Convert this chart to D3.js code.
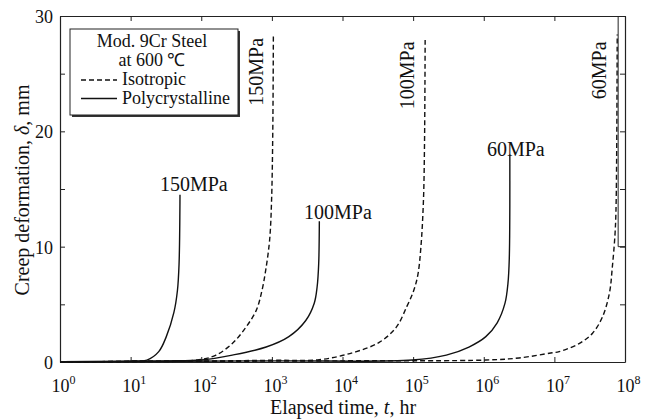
<!DOCTYPE html>
<html>
<head>
<meta charset="utf-8">
<script src="https://cdn.jsdelivr.net/npm/d3@7"></script>
<style>
  body { margin: 0; background: #fff; }
  svg text { font-family: "Liberation Serif", "Times New Roman", serif; fill: #111; }
</style>
</head>
<body>
<div id="chart"></div>
<script>
// elapsed time (hr) / creep deformation (mm)
var iso150 = [[1, 0.02], [10, 0.06], [93, 0.2], [162, 0.6], [275, 1.6], [427, 3.0], [603, 4.5], [724, 6.2], [820, 8.0], [930, 10.6], [990, 14], [1030, 20], [1050, 28.4]];
var poly150 = [[1, 0.02], [10, 0.08], [17, 0.17], [25, 0.9], [32, 2.2], [41, 4.3], [46, 6.2], [48.5, 8.5], [50, 14.5]];
var iso100 = [[1, 0.02], [100, 0.08], [1000, 0.15], [4680, 0.2], [13800, 0.8], [33100, 1.7], [57500, 3.0], [81300, 4.8], [102000, 6.2], [117000, 7.6], [129000, 10.0], [140000, 14], [145000, 19], [148000, 28.0]];
var poly100 = [[1, 0.02], [30, 0.1], [100, 0.17], [275, 0.6], [830, 1.3], [1740, 2.2], [3020, 3.6], [3980, 5.1], [4370, 6.5], [4600, 8.5], [4700, 12.2]];
var iso60 = [[1, 0.02], [10000, 0.1], [1070000, 0.17], [3160000, 0.35], [9330000, 0.8], [11700000, 0.9], [22400000, 1.6], [34700000, 2.5], [47900000, 3.9], [60300000, 6.0], [66100000, 8.2], [72400000, 11.2], [75000000, 14.0], [77600000, 28.4]];
var poly60 = [[1, 0.02], [1000, 0.1], [97700, 0.17], [295000, 0.6], [617000, 1.3], [1070000, 2.2], [1550000, 3.4], [2000000, 5.1], [2200000, 6.8], [2300000, 9.0], [2340000, 18]];
var edgeTrace = [[80000000, 30], [80000000, 10], [100000000, 10]];

var xTicks = [1, 10, 100, 1000, 1e4, 1e5, 1e6, 1e7, 1e8];
var xExponents = ['0', '1', '2', '3', '4', '5', '6', '7', '8'];
var yTicks = [0, 5, 10, 15, 20, 25, 30];
var yLabels = [0, 10, 20, 30];

// labels: [text, time, deformation, rotated]
var curveLabels = [
  ['150MPa', 26, 14.8, false],
  ['100MPa', 2850, 12.4, false],
  ['60MPa', 1110000, 17.9, false],
  ['150MPa', 760, 28.1, true],
  ['100MPa', 103000, 27.8, true],
  ['60MPa', 53000000, 27.8, true]
];
var legendItems = [['Isotropic', '5,3'], ['Polycrystalline', null]];

var width = 656, height = 420;
var svg = d3.select('#chart').append('svg').attr('width', width).attr('height', height);

var x = d3.scaleLog().domain([1, 1e8]).range([60, 625]);
var y = d3.scaleLinear().domain([0, 30]).range([362, 16]);

// frame + ticks (inward)
var bottom = svg.append('g').attr('transform', 'translate(0,' + y(0) + ')')
  .call(d3.axisBottom(x).tickValues(xTicks).tickSize(-5).tickSizeOuter(0).tickFormat(''));
var top = svg.append('g').attr('transform', 'translate(0,' + y(30) + ')')
  .call(d3.axisTop(x).tickValues(xTicks).tickSize(-5).tickSizeOuter(0).tickFormat(''));
var left = svg.append('g').attr('transform', 'translate(' + x(1) + ',0)')
  .call(d3.axisLeft(y).tickValues(yTicks).tickSize(-5).tickSizeOuter(0)
    .tickFormat(function(d) { return yLabels.indexOf(d) >= 0 ? d : ''; }));
var right = svg.append('g').attr('transform', 'translate(' + x(1e8) + ',0)')
  .call(d3.axisRight(y).tickValues(yTicks).tickSize(-5).tickSizeOuter(0).tickFormat(''));

svg.selectAll('.domain').attr('stroke', '#222').attr('stroke-width', 1.2);
svg.selectAll('.tick line').attr('stroke', '#222');

left.selectAll('.tick text')
  .attr('x', -7).attr('dy', '0.36em')
  .style('font-size', '18px').style('font-family', '"Liberation Serif", serif');

// x tick labels 10^n
bottom.selectAll('.tick').each(function(d, i) {
  var t = d3.select(this).append('text')
    .attr('x', -9).attr('y', 30)
    .attr('text-anchor', 'start')
    .style('font-size', '18px').style('font-family', '"Liberation Serif", serif');
  t.append('tspan').text('10');
  t.append('tspan').attr('dy', -8).style('font-size', '12px').text(xExponents[i]);
});

// curves
var line = d3.line()
  .x(function(d) { return x(d[0]); })
  .y(function(d) { return y(d[1]); })
  .curve(d3.curveCatmullRom.alpha(0.5));

var series = [
  [iso150, '5,3'], [iso100, '5,3'], [iso60, '5,3'],
  [poly150, null], [poly100, null], [poly60, null]
];
svg.append('g').selectAll('path').data(series).enter().append('path')
  .attr('d', function(d) { return line(d[0]); })
  .attr('fill', 'none')
  .attr('stroke', '#111')
  .attr('stroke-width', 1.4)
  .attr('stroke-dasharray', function(d) { return d[1]; });

svg.append('path')
  .attr('d', d3.line().x(function(d) { return x(d[0]); }).y(function(d) { return y(d[1]); })(edgeTrace))
  .attr('fill', 'none').attr('stroke', '#222').attr('stroke-width', 1);

// curve labels
svg.append('g').selectAll('text').data(curveLabels).enter().append('text')
  .attr('transform', function(d) {
    if (d[3]) return 'translate(' + x(d[1]) + ',' + y(d[2]) + ') rotate(-90)';
    return 'translate(' + x(d[1]) + ',' + y(d[2]) + ')';
  })
  .attr('text-anchor', function(d) { return d[3] ? 'end' : 'start'; })
  .style('font-size', '20px')
  .text(function(d) { return d[0]; });

// legend
var lg = svg.append('g');
lg.append('rect').attr('x', 72).attr('y', 31).attr('width', 168).attr('height', 86).attr('fill', '#333');
lg.append('rect').attr('x', 70).attr('y', 29).attr('width', 168).attr('height', 86)
  .attr('fill', '#fff').attr('stroke', '#222').attr('stroke-width', 1);
lg.append('text').attr('x', 152).attr('y', 47).attr('text-anchor', 'middle').style('font-size', '18px').text('Mod. 9Cr Steel');
lg.append('text').attr('x', 152).attr('y', 66).attr('text-anchor', 'middle').style('font-size', '18px').text('at 600 \u2103');
lg.selectAll('.item').data(legendItems).enter().append('g')
  .attr('transform', function(d, i) { return 'translate(0,' + (80 + i * 18.5) + ')'; })
  .each(function(d) {
    var g = d3.select(this);
    g.append('line').attr('x1', 81).attr('x2', 117).attr('y1', 0).attr('y2', 0)
      .attr('stroke', '#111').attr('stroke-width', 1.3).attr('stroke-dasharray', d[1]);
    g.append('text').attr('x', 122).attr('y', 5).style('font-size', '18px').text(d[0]);
  });

// axis titles
var xt = svg.append('text').attr('x', 343).attr('y', 414).attr('text-anchor', 'middle').style('font-size', '20px');
xt.append('tspan').text('Elapsed time, ');
xt.append('tspan').style('font-style', 'italic').text('t');
xt.append('tspan').text(', hr');

var yt = svg.append('text').attr('transform', 'translate(29,190) rotate(-90)').attr('text-anchor', 'middle').style('font-size', '20px');
yt.append('tspan').text('Creep deformation, ');
yt.append('tspan').style('font-style', 'italic').text('\u03b4');
yt.append('tspan').text(', mm');
</script>
</body>
</html>
